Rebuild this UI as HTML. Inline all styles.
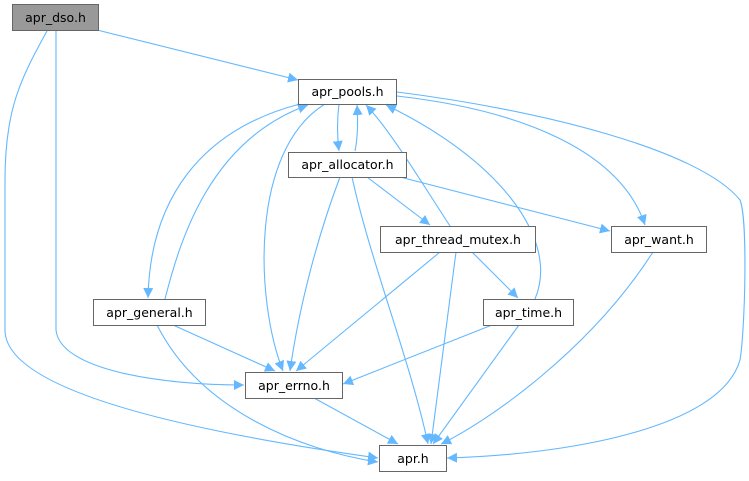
<!DOCTYPE html>
<html><head><meta charset="utf-8"><style>
body{margin:0;background:#fff;width:749px;height:476px;overflow:hidden}
svg text{font-family:"DejaVu Sans","Liberation Sans",sans-serif;font-size:12.5px;fill:#000}
</style></head><body>
<svg width="749" height="476" viewBox="0 0 749 476" xmlns="http://www.w3.org/2000/svg">
<defs><marker id="a" viewBox="0 0 10 10" refX="10" refY="5" markerWidth="10" markerHeight="10" markerUnits="userSpaceOnUse" orient="auto"><path d="M0,0 L10,5 L0,10 z" fill="#63b8ff"/></marker></defs>
<g fill="none" stroke="#63b8ff" stroke-width="1.1" marker-end="url(#a)">
<path d="M97,30 L298,80"/>
<path d="M56,31 L56,330 C60,370 160,385 244,385"/>
<path d="M47,31 C20,80 5,110 5,180 L5,330 C5,400 250,440 378,458"/>
<path d="M339,104 C337,120 337,135 339,151"/>
<path d="M355,151 C358,136 358,120 357,105"/>
<path d="M300,104 C200,130 150,200 148,298"/>
<path d="M165,299 C180,240 210,140 308,105"/>
<path d="M325,104 C250,150 255,300 283,371"/>
<path d="M397,96 C520,110 620,150 645,225"/>
<path d="M397,92 C540,110 700,150 740,200 C748,220 745,330 740,360 C720,430 560,455 447,458"/>
<path d="M450,226 C420,180 390,130 366,105"/>
<path d="M535,299 C560,240 500,160 386,105"/>
<path d="M340,177 C320,230 300,300 290,371"/>
<path d="M352,177 C370,260 410,360 428,444"/>
<path d="M367,177 L430,225"/>
<path d="M400,177 L610,231"/>
<path d="M440,252 L296,371"/>
<path d="M456,252 L431,444"/>
<path d="M472,252 L518,298"/>
<path d="M492,325 L343,384"/>
<path d="M519,325 L433,444"/>
<path d="M653,252 C590,350 490,420 441,444"/>
<path d="M173,325 L275,371"/>
<path d="M157,325 C200,410 300,450 378,462"/>
<path d="M314,398 L398,444"/>
</g>
<g stroke="#666" stroke-width="1">
<rect x="12.5" y="4.5" width="86" height="26" fill="#999"/>
<rect x="298.5" y="79.5" width="98" height="25" fill="#fff"/>
<rect x="288.5" y="152.5" width="118" height="25" fill="#fff"/>
<rect x="380.5" y="226.5" width="155" height="26" fill="#fff"/>
<rect x="611.5" y="226.5" width="95" height="26" fill="#fff"/>
<rect x="93.5" y="299.5" width="112" height="26" fill="#fff"/>
<rect x="483.5" y="299.5" width="90" height="26" fill="#fff"/>
<rect x="245.5" y="372.5" width="97" height="26" fill="#fff"/>
<rect x="379.5" y="445.5" width="67" height="26" fill="#fff"/>
</g>
<g text-anchor="middle">
<text x="55.5" y="22">apr_dso.h</text>
<text x="347.5" y="96">apr_pools.h</text>
<text x="347.5" y="169">apr_allocator.h</text>
<text x="458" y="244">apr_thread_mutex.h</text>
<text x="659" y="244">apr_want.h</text>
<text x="149.5" y="317">apr_general.h</text>
<text x="528.5" y="317">apr_time.h</text>
<text x="294" y="390">apr_errno.h</text>
<text x="413" y="463">apr.h</text>
</g>
</svg>
</body></html>
